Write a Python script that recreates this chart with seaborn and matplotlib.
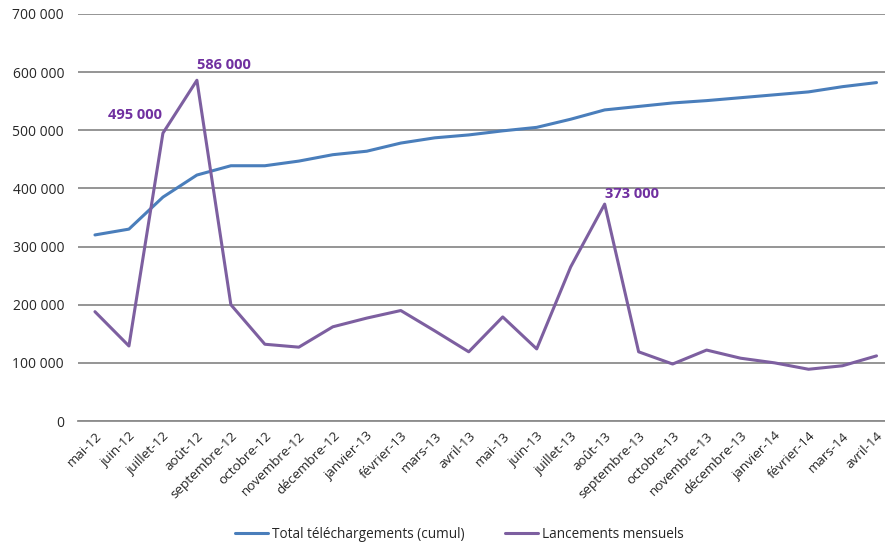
import matplotlib
matplotlib.use("Agg")
import matplotlib.pyplot as plt
import seaborn as sns
import pandas as pd
from matplotlib.ticker import FuncFormatter
from matplotlib.transforms import ScaledTranslation

months = ["mai-12", "juin-12", "juillet-12", "août-12", "septembre-12", "octobre-12",
          "novembre-12", "décembre-12", "janvier-13", "février-13", "mars-13", "avril-13",
          "mai-13", "juin-13", "juillet-13", "août-13", "septembre-13", "octobre-13",
          "novembre-13", "décembre-13", "janvier-14", "février-14", "mars-14", "avril-14"]
total_cumul = [320000, 330000, 385000, 423000, 439000, 439000, 447000, 458000, 464000,
               478000, 487000, 492000, 499000, 505000, 519000, 535000, 541000, 547000,
               551000, 556000, 561000, 566000, 575000, 582000]
lancements = [188000, 129000, 495000, 586000, 200000, 132000, 127000, 162000, 177000,
              190000, 155000, 119000, 179000, 124000, 265000, 373000, 119000, 98000,
              122000, 108000, 100000, 89000, 95000, 112000]
series_names = ["Total téléchargements (cumul)", "Lancements mensuels"]
labelled = {"juillet-12": 495000, "août-12": 586000, "août-13": 373000}

df = pd.DataFrame({
    "mois": months * 2,
    "idx": list(range(len(months))) * 2,
    "valeur": total_cumul + lancements,
    "serie": [series_names[0]] * len(months) + [series_names[1]] * len(months),
})

sns.set_style("white")
plt.rcParams["font.family"] = ["Open Sans", "DejaVu Sans"]

fig = plt.figure(figsize=(8.85, 5.44), dpi=100)
ax = fig.add_axes([0.0881, 0.2261, 0.9119, 0.7482])

palette = {series_names[0]: "#4A7EBB", series_names[1]: "#7D5FA0"}
sns.lineplot(data=df, x="idx", y="valeur", hue="serie", palette=palette,
             linewidth=2.2, ax=ax, legend=True)

ax.set_xlim(-0.5, 23.25)
ax.set_ylim(0, 700000)
ax.set_yticks(range(0, 700001, 100000))
ax.yaxis.set_major_formatter(FuncFormatter(lambda v, p: f"{int(v):,}".replace(",", " ")))
ax.grid(axis="y", color="#8C8C8C", linewidth=1.3)
ax.set_axisbelow(True)
for s in ["left", "right", "top"]:
    ax.spines[s].set_visible(False)
ax.spines["bottom"].set_color("#8C8C8C")
ax.spines["bottom"].set_linewidth(1.3)
ax.set_xticks(range(len(months)))
ax.set_xticklabels(months, rotation=45, ha="right", rotation_mode="anchor", fontsize=9.7)
shift = ScaledTranslation(-3 / 100, 0, fig.dpi_scale_trans)
for lbl in ax.get_xticklabels():
    lbl.set_transform(lbl.get_transform() + shift)
ax.tick_params(axis="y", labelsize=10, length=0, pad=10)
ax.tick_params(axis="x", length=0, pad=6)
ax.set_xlabel("")
ax.set_ylabel("")

offsets = {"juillet-12": (-1, 8, "right"), "août-12": (0, 6, "left"), "août-13": (0, 2, "left")}
for m, v in labelled.items():
    i = months.index(m)
    dx, dy, ha = offsets[m]
    ax.annotate(f"{v:,}".replace(",", " "), (i, v), xytext=(dx, dy), textcoords="offset points",
                ha=ha, va="bottom", fontsize=10.5, fontweight="bold", color="#7030A0")

handles, labels = ax.get_legend_handles_labels()
ax.get_legend().remove()
fig.legend(handles, labels, loc="center", bbox_to_anchor=(0.519, 0.017), ncol=2, frameon=False,
           fontsize=9.8, handlelength=2.4, columnspacing=3.0, handletextpad=0.3,
           borderaxespad=0, borderpad=0)
fig.savefig("out.png", dpi=100)
